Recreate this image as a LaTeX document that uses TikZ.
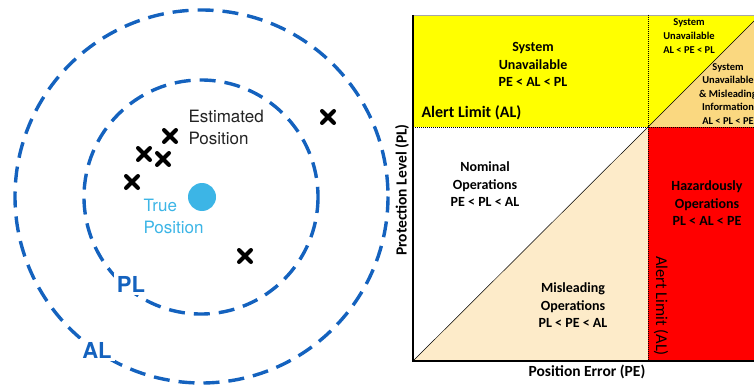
\documentclass[tikz,border=0pt]{standalone}
\usepackage{fontspec}
\setmainfont{Carlito}
\newfontfamily\leftfont{TeX Gyre Heros}
\usetikzlibrary{shapes.misc}
\definecolor{ringblue}{RGB}{20,98,190}
\definecolor{truecyan}{RGB}{60,181,230}
\definecolor{sysyellow}{RGB}{255,255,0}
\definecolor{mislead}{RGB}{253,235,201}
\definecolor{misorange}{RGB}{250,216,128}
\definecolor{hazred}{RGB}{255,0,0}
\definecolor{estgray}{RGB}{35,35,35}
\tikzset{
  ring/.style={draw=ringblue, line width=3.4pt, dash pattern=on 16pt off 9pt},
  xmark/.style={cross out, draw=black, line width=4pt, line cap=round, minimum size=8pt, inner sep=0pt},
  ringlabel/.style={fill=white, text=ringblue, font=\leftfont\bfseries\fontsize{22}{24}\selectfont, inner sep=3pt},
  lefttext/.style={font=\leftfont\fontsize{17}{22}\selectfont, align=left},
  region/.style={font=\bfseries\fontsize{14}{17.5}\selectfont, align=center, text=black},
  small/.style={font=\bfseries\fontsize{10.5}{14}\selectfont, align=center, text=black},
  axislabel/.style={font=\bfseries\fontsize{15.5}{18}\selectfont, text=black},
  divider/.style={draw=black, line width=0.9pt, dash pattern=on 1pt off 1pt},
}
\begin{document}
\begin{tikzpicture}[x=1pt,y=-1pt]
\useasboundingbox (0,0) rectangle (754,385);
\begin{scope}
\clip (0,0) rectangle (754,385);
% ---------- left: rings ----------
\draw[ring] (201.5,196.5) circle[radius=186.5];
\draw[ring] (201,197) circle[radius=117];
\node[ringlabel] (pl) at (131,284) {PL};
\node[ringlabel] (al) at (97,350) {AL};
\node[circle, fill=truecyan, minimum size=28pt, inner sep=0pt] (truepos) at (202,197) {};
\node[lefttext, text=truecyan, anchor=north west] (truetxt) at (140,196) {True\\Position};
\node[lefttext, text=estgray, anchor=north west] (esttxt) at (185,107) {Estimated\\Position};
\node[xmark] (x1) at (170,136) {};
\node[xmark] (x2) at (144,154) {};
\node[xmark] (x3) at (163,159) {};
\node[xmark] (x4) at (132,182) {};
\node[xmark] (x5) at (245,256) {};
\node[xmark] (x6) at (328,117) {};
% ---------- right: chart ----------
\coordinate (o) at (413,361);
\coordinate (c) at (648,127);
\fill[sysyellow] (413,15) rectangle (762,127);
\fill[misorange] (648,127) -- (761,14) -- (761,127) -- cycle;
\fill[white] (413,127) rectangle (648,361);
\fill[mislead] (o) -- (c) -- (648,361) -- cycle;
\fill[hazred] (648,127) rectangle (762,361);
\draw[black, line width=0.5pt] (o) -- (c) -- (761,14);
\draw[gray!70, line width=0.8pt] (413,15) -- (762,15);
\draw[divider] (413,127) -- (762,127);
\draw[divider] (648,15) -- (648,361);
\draw[black, line width=1.2pt] (413,15) -- (o) -- (762,361);
\node[region] (sysu) at (533,64.5) {System\\Unavailable\\PE < AL < PL};
\node[font=\bfseries\fontsize{16}{18}\selectfont, anchor=west] (alh) at (418,113) {Alert Limit (AL)};
\node[small] (sysu2) at (689,36.5) {System\\Unavailable\\AL < PE < PL};
\node[small, font=\bfseries\fontsize{10.5}{13.5}\selectfont] (sysmis) at (728,94) {System\\Unavailable\\\& Misleading\\Information\\AL < PL < PE};
\node[region] (nominal) at (485,184.5) {Nominal\\Operations\\PE < PL < AL};
\node[region] (misl) at (573,305.5) {Misleading\\Operations\\PL < PE < AL};
\node[region] (haz) at (707,203.5) {Hazardously\\Operations\\PL < AL < PE};
\node[font=\fontsize{16.5}{18}\selectfont, rotate=-90] (alv) at (661,306) {Alert Limit (AL)};
\node[axislabel, rotate=90] (plax) at (402,190) {Protection Level (PL)};
\node[axislabel] (peax) at (587,372) {Position Error (PE)};
\end{scope}
\end{tikzpicture}
\end{document}
